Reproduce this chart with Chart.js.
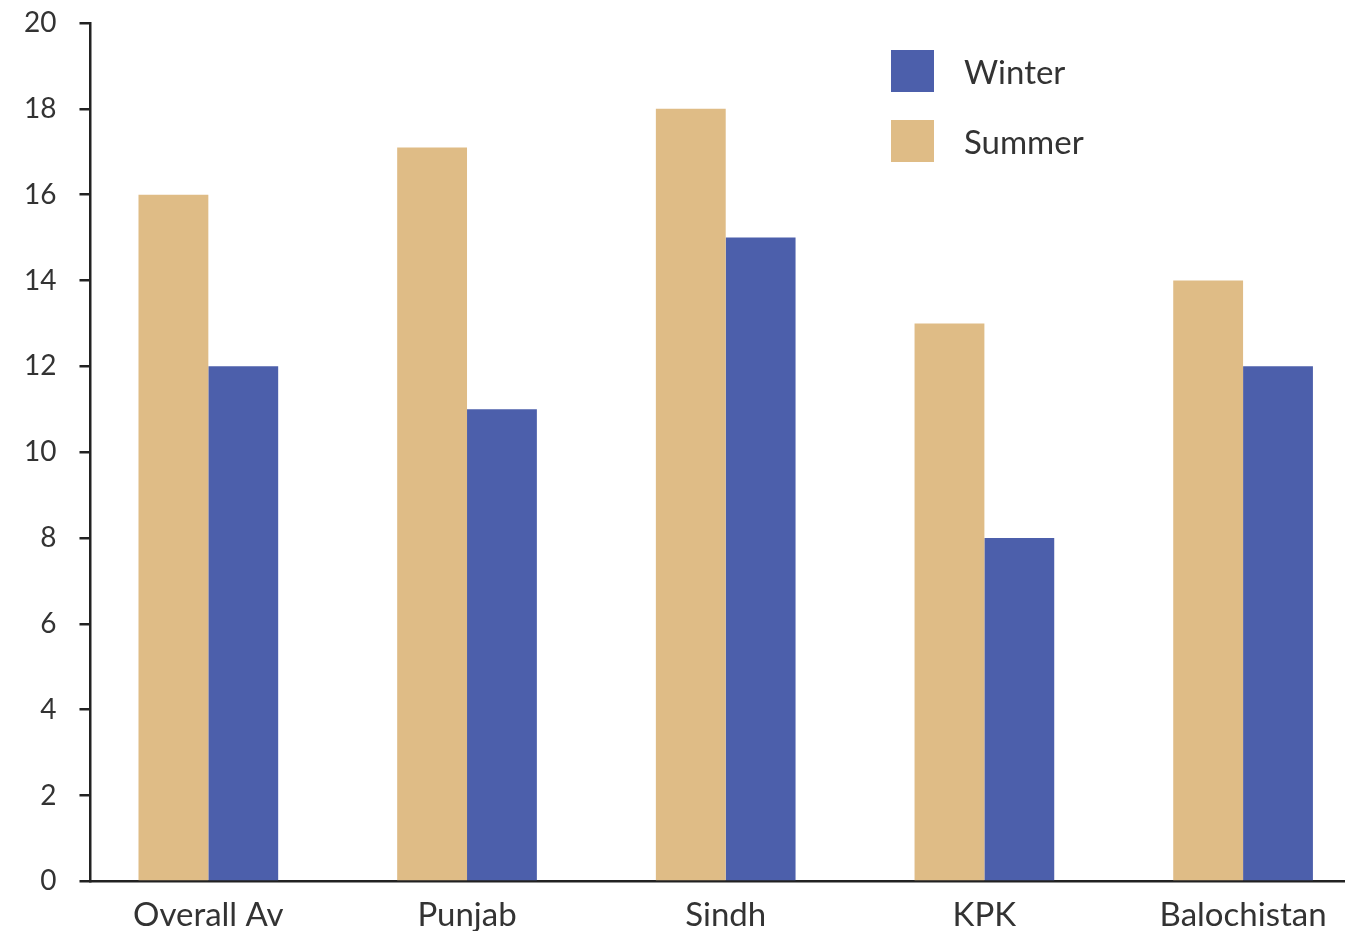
<!DOCTYPE html>
<html>
<head>
<meta charset="utf-8">
<script src="https://cdn.jsdelivr.net/npm/chart.js@4/dist/chart.umd.min.js"></script>
<style>
    html, body { margin: 0; padding: 0; background: #fff; overflow: hidden; }
    #wrap { position: relative; width: 1345px; height: 931px; }
    #legend { position: absolute; left: 891px; top: 50px; font-family: Lato, sans-serif; font-size: 33px; color: #333; }
    .item { display: flex; align-items: center; height: 42px; margin-bottom: 28px; }
    .swatch { width: 43px; height: 42px; margin-right: 30px; }
</style>
</head>
<body>
<div id="wrap">
    <canvas id="chart"></canvas>
    <div id="legend"></div>
</div>
<script>
const categories = ['Overall Av', 'Punjab', 'Sindh', 'KPK', 'Balochistan'];
const summer = [16, 17.1, 18, 13, 14];
const winter = [12, 11, 15, 8, 12];
const yTicks = [0, 2, 4, 6, 8, 10, 12, 14, 16, 18, 20];

const SUMMER_COLOR = '#DFBC86';
const WINTER_COLOR = '#4C5FAB';
const AXIS_COLOR = '#222';
const TEXT_COLOR = '#333';
const FONT = 'Lato, sans-serif';

// points on an index axis so the category bands can sit off-centre like the original
function toPoints(values) {
    return values.map((v, i) => ({ x: i, y: v }));
}

const datasets = [
    { label: 'Summer', data: toPoints(summer), backgroundColor: SUMMER_COLOR },
    { label: 'Winter', data: toPoints(winter), backgroundColor: WINTER_COLOR }
];

const chart = new Chart(document.querySelector('#chart'), {
    type: 'bar',
    data: { datasets: datasets },
    options: {
        responsive: true,
        maintainAspectRatio: false,
        animation: false,
        categoryPercentage: 0.54,
        barPercentage: 1,
        layout: { padding: { top: 23, left: 1, right: 0, bottom: -18 } },
        plugins: {
            legend: { display: false },
            tooltip: { enabled: false }
        },
        scales: {
            x: {
                type: 'linear',
                offset: false,
                bounds: 'data',
                min: -0.4556,
                max: 4.394,
                afterBuildTicks: axis => { axis.ticks = categories.map((c, i) => ({ value: i })); },
                ticks: {
                    autoSkip: false,
                    maxRotation: 0,
                    padding: 14,
                    color: TEXT_COLOR,
                    font: { family: FONT, size: 33 },
                    callback: value => categories[value]
                },
                grid: { display: false, drawTicks: false },
                border: { display: true, color: AXIS_COLOR, width: 2.5 }
            },
            y: {
                min: 0,
                max: 20,
                afterBuildTicks: axis => { axis.ticks = yTicks.map(v => ({ value: v })); },
                // labels may overhang the plot top and bottom, as in the original
                afterFit: axis => { axis.paddingTop = 0; axis.paddingBottom = 0; },
                ticks: {
                    padding: 23,
                    color: TEXT_COLOR,
                    font: { family: FONT, size: 28 }
                },
                grid: {
                    drawOnChartArea: false,
                    drawTicks: true,
                    tickLength: 11,
                    color: AXIS_COLOR,
                    lineWidth: 2.5
                },
                border: { display: true, color: AXIS_COLOR, width: 2.5 }
            }
        }
    }
});

// legend, winter listed first as in the original
const legend = document.querySelector('#legend');
[...datasets].reverse().forEach(ds => {
    const item = document.createElement('div');
    item.className = 'item';
    const swatch = document.createElement('div');
    swatch.className = 'swatch';
    swatch.style.background = ds.backgroundColor;
    const text = document.createElement('span');
    text.textContent = ds.label;
    item.appendChild(swatch);
    item.appendChild(text);
    legend.appendChild(item);
});
</script>
</body>
</html>
